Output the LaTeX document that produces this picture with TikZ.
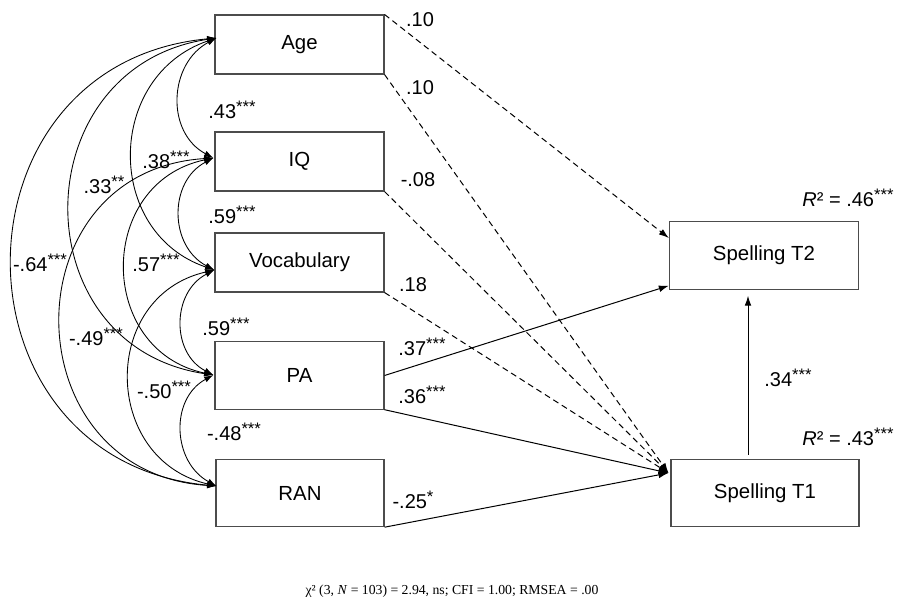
\documentclass[tikz,border=0pt]{standalone}
\usepackage{fontspec}
\setmainfont{Liberation Sans}
\newfontfamily\capfont{Liberation Serif}
\usetikzlibrary{arrows.meta,calc}
\newcommand\sigstar[1]{\raisebox{0.28em}{\fontsize{12.5}{12.5}\selectfont #1}}
\begin{document}
\begin{tikzpicture}[x=0.75pt,y=-0.75pt,
  box/.style={draw=black!70, line width=0.8pt, minimum width=126.75pt, minimum height=44.25pt, inner sep=0pt, font=\fontsize{15.3}{18}\selectfont},
  tall/.style={minimum height=50.5pt},
  wide/.style={minimum width=142pt},
  lbl/.style={inner sep=0pt, font=\fontsize{15}{18}\selectfont},
  arr/.style={line width=0.75pt, -{Latex[length=7.5pt,width=5pt]}},
  dsh/.style={arr, dash pattern=on 4.5pt off 3pt},
  cov/.style={line width=0.65pt, {Latex[length=7pt,width=4.5pt]}-{Latex[length=7pt,width=4.5pt]}}
]
\useasboundingbox (0,0) rectangle (905,605);

% boxes
\node[box] (age) at (299.5,44.5) {Age};
\node[box] (iq) at (299.5,161.5) {IQ};
\node[box] (voc) at (299.5,262.5) {Vocabulary};
\node[box,tall] (pa) at (299.5,375.5) {PA};
\node[box,tall,minimum width=126pt] (ran) at (300,493) {RAN};
\node[box,tall,wide] (t2) at (764,255.5) {Spelling T2};
\node[box,tall,minimum width=141pt] (t1) at (765,493) {Spelling T1};

% anchor points
\coordinate (cA) at ($(age.west)+(2,-6.5)$);
\coordinate (cI) at ($(iq.west)+(-1,-3.5)$);
\coordinate (cV) at ($(voc.west)+(0,7.5)$);
\coordinate (cP) at ($(pa.west)+(-1,-0.5)$);
\coordinate (cR) at ($(ran.west)+(1,-7)$);
\coordinate (t2a) at ($(t2.west)+(0,-17.5)$);
\coordinate (t2b) at ($(t2.south west)+(0,-4)$);
\coordinate (t1a) at ($(t1.west)+(-2,-20)$);
\coordinate (t1top) at ($(t1.north)+(-17,-4)$);
\coordinate (t2bot) at ($(t2.south)+(-16,6)$);

% covariances
\draw[cov] (cA) .. controls +(-48,25.6) and +(-48,-25.6) .. (cI);
\draw[cov] (cA) .. controls +(-110.7,37.7) and +(-110.7,-37.7) .. (cV);
\draw[cov] (cA) .. controls +(-193.3,29.1) and +(-193.3,-29.1) .. (cP);
\draw[cov] (cA) .. controls +(-272,25.5) and +(-272,-25.5) .. (cR);
\draw[cov] (cI) .. controls +(-45.3,23.6) and +(-45.3,-23.6) .. (cV);
\draw[cov] (cI) .. controls +(-117.3,24.8) and +(-117.3,-24.8) .. (cP);
\draw[cov] (cI) .. controls +(-205.3,12.9) and +(-205.3,-12.9) .. (cR);
\draw[cov] (cV) .. controls +(-42.7,22) and +(-42.7,-22) .. (cP);
\draw[cov] (cV) .. controls +(-114.7,26.3) and +(-114.7,-26.3) .. (cR);
\draw[cov] (cP) .. controls +(-44,23.9) and +(-44,-23.9) .. (cR);

% regressions
\draw[dsh] (age.north east) -- (t2a);
\draw[dsh] (age.south east) -- (t1a);
\draw[dsh] (iq.south east) -- (t1a);
\draw[dsh] (voc.south east) -- (t1a);
\draw[arr] (pa.east) -- (t2b);
\draw[arr] (pa.south east) -- (t1a);
\draw[arr] (ran.south east) -- (t1a);
\draw[arr] (t1top) -- (t2bot);

% path labels
\node[lbl] (l1) at (420,20) {.10};
\node[lbl] (l2) at (420,88) {.10};
\node[lbl] (l3) at (418,180) {-.08};
\node[lbl] (l4) at (413,285) {.18};
\node[lbl] (l5) at (422,347) {.37\sigstar{***}};
\node[lbl] (l6) at (422,395) {.36\sigstar{***}};
\node[lbl] (l7) at (413,500) {-.25\sigstar{*}};
\node[lbl] (l8) at (788,378) {.34\sigstar{***}};
\node[lbl] (r2a) at (848,198) {\textit{R}² = .46\sigstar{***}};
\node[lbl] (r2b) at (848,437) {\textit{R}² = .43\sigstar{***}};

% covariance labels
\node[lbl] (k1) at (232,110) {.43\sigstar{***}};
\node[lbl] (k2) at (232,215) {.59\sigstar{***}};
\node[lbl] (k3) at (226,327) {.59\sigstar{***}};
\node[lbl] (k4) at (234,432) {-.48\sigstar{***}};
\node[lbl] (k5) at (166,160) {.38\sigstar{***}};
\node[lbl] (k6) at (104,185) {.33\sigstar{**}};
\node[lbl] (k7) at (40,263) {-.64\sigstar{***}};
\node[lbl] (k8) at (156,263) {.57\sigstar{***}};
\node[lbl] (k9) at (96,337) {-.49\sigstar{***}};
\node[lbl] (k10) at (164,390) {-.50\sigstar{***}};

% fit statistics
\node[inner sep=0pt, font=\capfont\fontsize{10.3}{12}\selectfont] (fitstat) at (452,591) {χ² (3, \textit{N} = 103) = 2.94, ns; CFI = 1.00; RMSEA = .00};
\end{tikzpicture}
\end{document}
